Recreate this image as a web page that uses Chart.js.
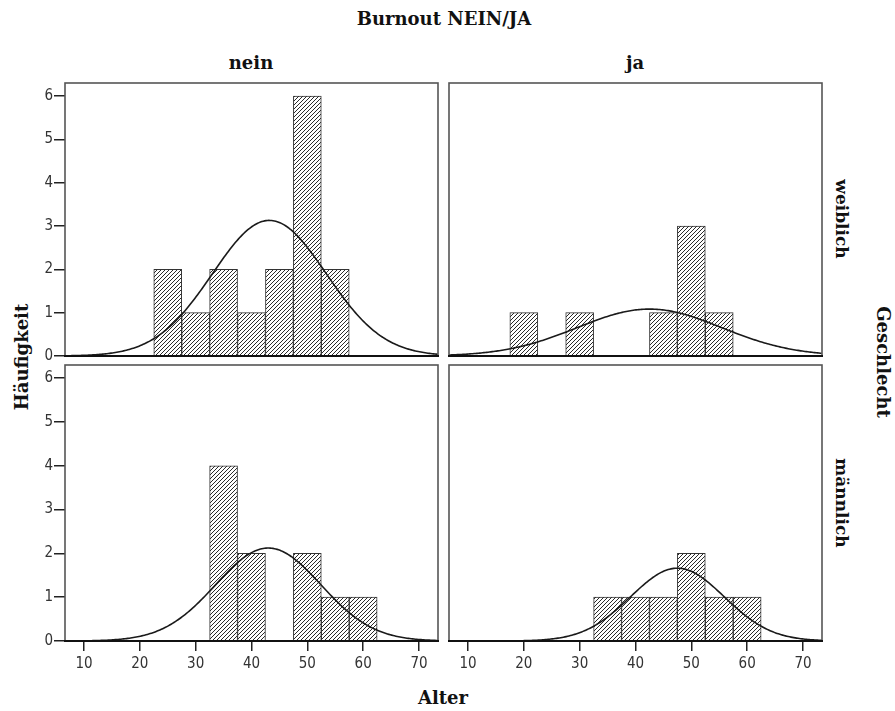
<!DOCTYPE html>
<html>
<head>
<meta charset="utf-8">
<script src="https://cdn.jsdelivr.net/npm/chart.js@4"></script>
<style>
  body { margin: 0; background: #fff; }
  #wrap { position: relative; width: 895px; height: 711px; overflow: hidden; }
  canvas { position: absolute; }
  .lbl { position: absolute; font-family: "DejaVu Serif", "Liberation Serif", serif; font-weight: bold; color: #111; white-space: nowrap; transform: translate(-50%, -50%); }
</style>
</head>
<body>
<div id="wrap">
  <div class="lbl" style="left:444px; top:18px; font-size:18px;">Burnout NEIN/JA</div>
  <div class="lbl" style="left:251px; top:62px; font-size:18px;">nein</div>
  <div class="lbl" style="left:635px; top:62px; font-size:18px;">ja</div>
  <div class="lbl" style="left:842px; top:219px; font-size:17px; transform:translate(-50%,-50%) rotate(90deg);">weiblich</div>
  <div class="lbl" style="left:842px; top:503px; font-size:17px; transform:translate(-50%,-50%) rotate(90deg);">männlich</div>
  <div class="lbl" style="left:883px; top:362px; font-size:18px; transform:translate(-50%,-50%) rotate(90deg);">Geschlecht</div>
  <div class="lbl" style="left:21px; top:357px; font-size:18px; transform:translate(-50%,-50%) rotate(-90deg);">Häufigkeit</div>
  <div class="lbl" style="left:443px; top:697px; font-size:18px;">Alter</div>
  <canvas id="c0" width="423" height="330" style="left:20px; top:71px;"></canvas>
  <canvas id="c1" width="423" height="330" style="left:404px; top:71px;"></canvas>
  <canvas id="c2" width="423" height="333" style="left:20px; top:353px;"></canvas>
  <canvas id="c3" width="423" height="333" style="left:404px; top:353px;"></canvas>
</div>
<script>
// Histogram bins (Alter, bin width 5)
const binCenters = [20, 25, 30, 35, 40, 45, 50, 55, 60];
const binWidth = 5;

// counts per panel
const countsNeinWeiblich = [0, 2, 1, 2, 1, 2, 6, 2, 0];
const countsJaWeiblich = [1, 0, 1, 0, 0, 1, 3, 1, 0];
const countsNeinMaennlich = [0, 0, 0, 4, 2, 0, 2, 1, 1];
const countsJaMaennlich = [0, 0, 0, 1, 1, 1, 2, 1, 1];

// normal curve parameters per panel
const curveMean = [43.2, 42.5, 43.0, 47.5];
const curveSD = [10.2, 12.9, 9.4, 8.4];
const curveN = [16, 7, 10, 7];

const xTicks = [10, 20, 30, 40, 50, 60, 70];
const yTicks = [0, 1, 2, 3, 4, 5, 6];
const xMin = 6.6, xMax = 73.4;
const yMax = 6.3;

const tickFont = { family: "'DejaVu Sans Condensed', 'DejaVu Sans', sans-serif", size: 15 };

function hatchPattern() {
  const c = document.createElement("canvas");
  c.width = 4; c.height = 4;
  const g = c.getContext("2d");
  g.fillStyle = "#fff";
  g.fillRect(0, 0, 4, 4);
  g.strokeStyle = "#2a2a2a";
  g.lineWidth = 1.0;
  g.beginPath();
  g.moveTo(-1, 5); g.lineTo(5, -1);
  g.moveTo(-3, 3); g.lineTo(3, -3);
  g.moveTo(1, 7); g.lineTo(7, 1);
  g.stroke();
  return g.createPattern(c, "repeat");
}

function normalCurve(i) {
  const pts = [];
  const k = curveN[i] * binWidth / (curveSD[i] * Math.sqrt(2 * Math.PI));
  for (let x = xMin; x <= xMax + 0.001; x += 0.25) {
    const z = (x - curveMean[i]) / curveSD[i];
    pts.push({ x: x, y: k * Math.exp(-0.5 * z * z) });
  }
  return pts;
}

// frame round the plot area, thick baseline
const framePlugin = {
  id: "frame",
  afterDatasetsDraw(chart) {
    const a = chart.chartArea;
    const ctx = chart.ctx;
    ctx.save();
    ctx.strokeStyle = "#555";
    ctx.lineWidth = 1.6;
    ctx.strokeRect(a.left, a.top, a.right - a.left, a.bottom - a.top);
    ctx.strokeStyle = "#111";
    ctx.lineWidth = 2.2;
    ctx.beginPath();
    ctx.moveTo(a.left - 1, a.bottom);
    ctx.lineTo(a.right + 1, a.bottom);
    ctx.stroke();
    ctx.restore();
  }
};

function makePanel(id, counts, idx, showY, showX) {
  const ctx = document.getElementById(id).getContext("2d");
  new Chart(ctx, {
    type: "bar",
    data: {
      datasets: [
        {
          type: "bar",
          data: binCenters.map((c, j) => ({ x: c, y: counts[j] > 0 ? counts[j] : null })),
          backgroundColor: hatchPattern(),
          borderColor: "#333",
          borderWidth: 1,
          barPercentage: 1,
          categoryPercentage: 1,
          order: 2
        },
        {
          type: "line",
          data: normalCurve(idx),
          borderColor: "#1a1a1a",
          borderWidth: 1.6,
          pointRadius: 0,
          fill: false,
          tension: 0,
          order: 1
        }
      ]
    },
    options: {
      responsive: false,
      animation: false,
      devicePixelRatio: 1,
      layout: { padding: { left: 0, top: 12, right: 5, bottom: 0 } },
      plugins: { legend: { display: false }, tooltip: { enabled: false } },
      scales: {
        x: {
          type: "linear",
          min: xMin,
          max: xMax,
          offset: false,
          border: { display: false },
          grid: { display: showX, offset: false, drawOnChartArea: false, drawTicks: true, tickLength: 10, color: "#222", lineWidth: 1.5 },
          ticks: { display: showX, font: tickFont, color: "#333", padding: 4, maxRotation: 0 },
          afterBuildTicks: s => { s.ticks = xTicks.map(v => ({ value: v })); },
          afterFit: s => { s.height = 45; }
        },
        y: {
          min: 0,
          max: yMax,
          border: { display: false },
          grid: { display: showY, drawOnChartArea: false, drawTicks: true, tickLength: 11, color: "#222", lineWidth: 1.5 },
          ticks: { display: showY, font: tickFont, color: "#333", padding: 1 },
          afterBuildTicks: s => { s.ticks = yTicks.map(v => ({ value: v })); },
          afterFit: s => { s.width = 45; }
        }
      }
    },
    plugins: [framePlugin]
  });
}

makePanel("c0", countsNeinWeiblich, 0, true, false);
makePanel("c1", countsJaWeiblich, 1, false, false);
makePanel("c2", countsNeinMaennlich, 2, true, true);
makePanel("c3", countsJaMaennlich, 3, false, true);
</script>
</body>
</html>
